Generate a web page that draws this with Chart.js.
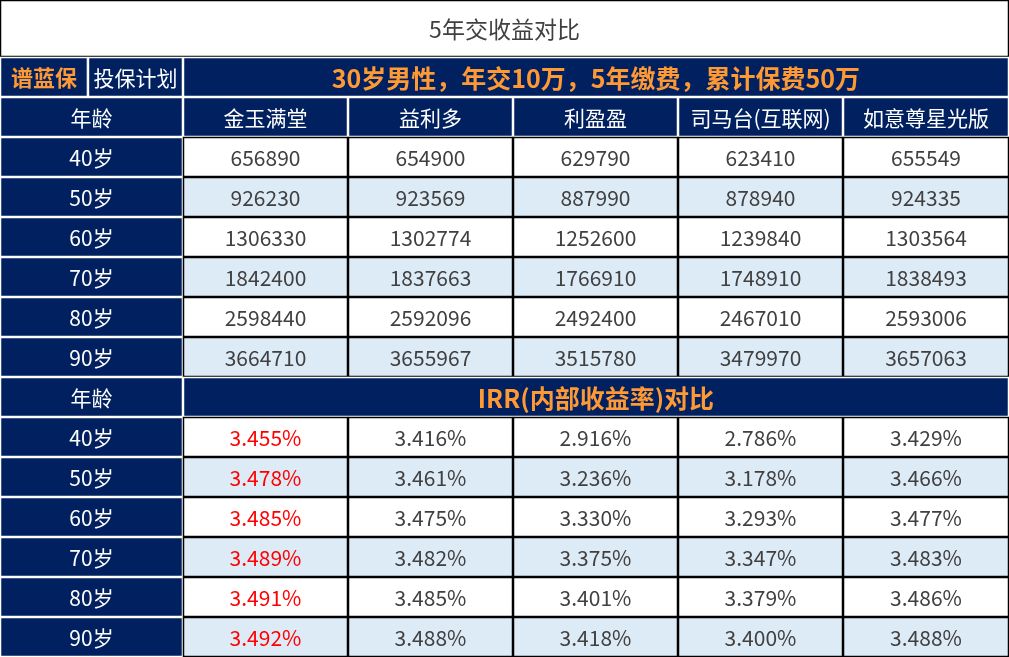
<!DOCTYPE html>
<html>
<head>
<meta charset="utf-8">
<script src="https://cdn.jsdelivr.net/npm/chart.js@4.4.1/dist/chart.umd.min.js"></script>
<style>
  html, body { margin: 0; padding: 0; background: #fff; }
  #wrap { width: 1009px; height: 657px; }
</style>
</head>
<body>
<div id="wrap"><canvas id="table"></canvas></div>
<script>
// table data
const title = '5年交收益对比';
const planText = '30岁男性，年交10万，5年缴费，累计保费50万';
const products = ['金玉满堂', '益利多', '利盈盈', '司马台(互联网)', '如意尊星光版'];
const ages = ['40岁', '50岁', '60岁', '70岁', '80岁', '90岁'];
const cashValues = [
    [656890, 654900, 629790, 623410, 655549],
    [926230, 923569, 887990, 878940, 924335],
    [1306330, 1302774, 1252600, 1239840, 1303564],
    [1842400, 1837663, 1766910, 1748910, 1838493],
    [2598440, 2592096, 2492400, 2467010, 2593006],
    [3664710, 3655967, 3515780, 3479970, 3657063]
];
const irrValues = [
    ['3.455%', '3.416%', '2.916%', '2.786%', '3.429%'],
    ['3.478%', '3.461%', '3.236%', '3.178%', '3.466%'],
    ['3.485%', '3.475%', '3.330%', '3.293%', '3.477%'],
    ['3.489%', '3.482%', '3.375%', '3.347%', '3.483%'],
    ['3.491%', '3.485%', '3.401%', '3.379%', '3.486%'],
    ['3.492%', '3.488%', '3.418%', '3.400%', '3.488%']
];

const NAVY = '#002060';
const ORANGE = '#ff9933';
const FONT = '"Noto Sans CJK SC", "Noto Sans", sans-serif';
// column edges in x-scale units, row edges in y-scale units
const colEdges = [0, 1.109, 2.109, 3.109, 4.109, 5.109, 6.115];
const TITLE_H = 1.425;

const tablePlugin = {
    id: 'tablePlugin',
    afterDraw(chart) {
        const ctx = chart.ctx;
        const xs = chart.scales.x, ys = chart.scales.y;
        const px = v => xs.getPixelForValue(v);
        const py = v => ys.getPixelForValue(v);

        function cell(x0, x1, y0, y1, bg, text, color, font, border) {
            const l = px(x0), r = px(x1), t = py(y0), b = py(y1);
            ctx.fillStyle = bg;
            ctx.fillRect(l, t, r - l, b - t);
            ctx.strokeStyle = border;
            ctx.lineWidth = 1.5;
            ctx.strokeRect(l + 0.5, t + 0.5, r - l - 1, b - t - 1);
            if (text !== '') {
                ctx.fillStyle = color;
                ctx.font = font;
                ctx.textAlign = 'center';
                ctx.textBaseline = 'middle';
                ctx.fillText(text, (l + r) / 2, (t + b) / 2 + 1);
            }
        }

        const big = '23px ' + FONT;
        const num = '21px ' + FONT;
        const bold = 'bold 25px ' + FONT;
        const last = colEdges[colEdges.length - 1];

        // title
        cell(0, last, 0, TITLE_H, '#ffffff', title, '#404040', big, '#000');
        // plan row
        let y = TITLE_H;
        cell(0, 0.533, y, y + 1, NAVY, '谱蓝保', ORANGE, 'bold 22px ' + FONT, '#fff');
        cell(0.533, colEdges[1], y, y + 1, NAVY, '投保计划', '#fff', num, '#fff');
        cell(colEdges[1], last, y, y + 1, NAVY, planText, ORANGE, bold, '#fff');
        y += 1;
        // product header
        cell(0, colEdges[1], y, y + 1, NAVY, '年龄', '#fff', num, '#fff');
        products.forEach((p, i) => cell(colEdges[i + 1], colEdges[i + 2], y, y + 1, NAVY, p, '#fff', num, '#fff'));
        y += 1;
        // cash values
        ages.forEach((a, r) => {
            cell(0, colEdges[1], y, y + 1, NAVY, a, '#fff', num, '#fff');
            cashValues[r].forEach((v, i) => cell(colEdges[i + 1], colEdges[i + 2], y, y + 1,
                r % 2 ? '#ddebf7' : '#ffffff', String(v), '#404040', num, '#000'));
            y += 1;
        });
        // IRR header
        cell(0, colEdges[1], y, y + 1, NAVY, '年龄', '#fff', num, '#fff');
        cell(colEdges[1], last, y, y + 1, NAVY, 'IRR(内部收益率)对比', ORANGE, bold, '#fff');
        y += 1;
        ages.forEach((a, r) => {
            cell(0, colEdges[1], y, y + 1, NAVY, a, '#fff', num, '#fff');
            irrValues[r].forEach((v, i) => cell(colEdges[i + 1], colEdges[i + 2], y, y + 1,
                r % 2 ? '#ddebf7' : '#ffffff', v, i === 0 ? '#ff0000' : '#404040', num, '#000'));
            y += 1;
        });
    }
};

new Chart(document.getElementById('table'), {
    type: 'scatter',
    data: { datasets: [{ data: [] }] },
    options: {
        responsive: true,
        maintainAspectRatio: false,
        animation: false,
        layout: { padding: 0 },
        plugins: { legend: { display: false }, tooltip: { enabled: false } },
        scales: {
            x: { type: 'linear', min: 0, max: colEdges[colEdges.length - 1], display: false },
            y: { type: 'linear', min: 0, max: TITLE_H + 15, reverse: true, display: false }
        }
    },
    plugins: [tablePlugin]
});
</script>
</body>
</html>
